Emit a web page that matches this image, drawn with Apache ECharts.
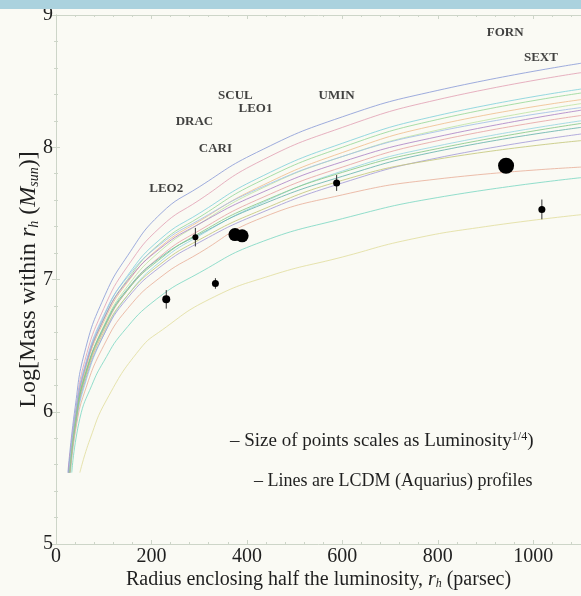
<!DOCTYPE html>
<html><head><meta charset="utf-8">
<script src="https://cdn.jsdelivr.net/npm/echarts@6/dist/echarts.min.js"></script>
<style>html,body{margin:0;padding:0;background:#fafaf4;}#c{width:581px;height:596px;}</style>
</head><body><div id="c"></div>
<script>
// ---- data ----
const xTicks = [0, 200, 400, 600, 800, 1000];
const yTicks = [5, 6, 7, 8, 9];

// galaxy points (r_h in pc, log mass)
const ptX = [231, 292, 334, 375, 390, 588, 943, 1018];
const ptY = [6.85, 7.32, 6.97, 7.34, 7.33, 7.73, 7.86, 7.53];
const ptErr = [0.07, 0.07, 0.04, 0.03, 0.03, 0.06, 0.03, 0.075];
const ptSize = [8, 6, 7, 13, 13, 7, 16, 7];

// galaxy name labels
const labNames = ['LEO2', 'CARI', 'DRAC', 'SCUL', 'LEO1', 'UMIN', 'FORN', 'SEXT'];
const labX = [231, 334, 290, 376, 418, 588, 941, 1016];
const labY = [7.69, 7.99, 8.19, 8.39, 8.29, 8.39, 8.87, 8.68];

// LCDM (Aquarius) profiles
const prof01 = [[25,5.54],[40,6.03],[60,6.45],[100,6.86],[150,7.18],[220,7.5],[300,7.7],[420,7.96],[600,8.23],[800,8.43],[1100,8.635]];
const prof02 = [[26,5.54],[40,5.98],[60,6.38],[100,6.78],[150,7.1],[220,7.4],[300,7.6],[420,7.88],[600,8.15],[800,8.36],[1100,8.564]];
const prof03 = [[27,5.54],[40,5.95],[60,6.33],[100,6.72],[150,7.03],[220,7.31],[300,7.5],[420,7.76],[600,8.03],[800,8.24],[1100,8.44]];
const prof04 = [[28,5.54],[40,5.92],[60,6.3],[100,6.7],[150,7.0],[220,7.28],[300,7.47],[420,7.73],[600,8.0],[800,8.21],[1100,8.41]];
const prof05 = [[27,5.54],[40,5.94],[60,6.3],[100,6.68],[150,6.98],[220,7.25],[300,7.44],[420,7.69],[600,7.96],[800,8.17],[1100,8.36]];
const prof06 = [[29,5.54],[42,5.95],[60,6.26],[100,6.65],[150,6.95],[220,7.22],[300,7.42],[420,7.67],[600,7.93],[800,8.13],[1100,8.33]];
const prof07 = [[26,5.54],[40,5.96],[60,6.32],[100,6.7],[150,6.99],[220,7.24],[300,7.42],[420,7.64],[600,7.89],[800,8.08],[1100,8.28]];
const prof08 = [[28,5.54],[40,5.9],[60,6.25],[100,6.62],[150,6.92],[220,7.18],[300,7.37],[420,7.6],[600,7.85],[800,8.05],[1100,8.24]];
const prof09 = [[30,5.54],[42,5.9],[60,6.2],[100,6.58],[150,6.88],[220,7.14],[300,7.33],[420,7.56],[600,7.82],[800,8.01],[1100,8.2]];
const prof10 = [[27,5.54],[40,5.92],[60,6.27],[100,6.64],[150,6.93],[220,7.17],[300,7.34],[420,7.55],[600,7.78],[800,7.97],[1100,8.15]];
const prof11 = [[29,5.54],[40,5.88],[60,6.22],[100,6.58],[150,6.86],[220,7.1],[300,7.28],[420,7.49],[600,7.73],[800,7.92],[1100,8.1]];
const prof12 = [[28,5.54],[40,5.9],[60,6.24],[100,6.6],[150,6.88],[220,7.12],[300,7.3],[420,7.51],[600,7.75],[800,7.91],[1100,8.05]];
const prof13 = [[30,5.54],[42,5.88],[60,6.15],[100,6.5],[150,6.78],[220,7.02],[300,7.2],[420,7.45],[600,7.64],[800,7.76],[1100,7.85]];
const prof14 = [[33,5.54],[50,5.95],[75,6.2],[100,6.38],[140,6.6],[210,6.85],[300,7.05],[420,7.27],[600,7.46],[800,7.62],[1100,7.77]];
const prof15 = [[50,5.54],[71,5.79],[106,6.09],[175,6.47],[223,6.62],[321,6.85],[450,7.03],[600,7.17],[738,7.3],[900,7.4],[1100,7.49]];
const prof16 = [[27,5.54],[40,5.97],[60,6.34],[100,6.73],[150,7.02],[220,7.27],[300,7.45],[420,7.68],[600,7.93],[800,8.12],[1100,8.3]];
const prof17 = [[29,5.54],[41,5.91],[60,6.26],[100,6.63],[150,6.92],[220,7.16],[300,7.35],[420,7.57],[600,7.81],[800,7.99],[1100,8.18]];

const profiles = [prof01, prof02, prof03, prof04, prof05, prof06, prof07, prof08, prof09, prof10, prof11, prof12, prof13, prof14, prof15, prof16, prof17];
const profColors = ['#8d9ed8', '#e3a3b6', '#84d2dc', '#9ad89a', '#f0bf90', '#bfe4a6', '#ae86c8', '#e6a6a6', '#98d6e2', '#6ab4ae', '#a69ed8', '#c6c87e', '#e9b29c', '#7fd8c4', '#e2dea0', '#a2bfe6', '#88c98a'];

// ---- chart ----
const chart = echarts.init(document.getElementById('c'), null, {renderer: 'canvas'});
const serif = 'Liberation Serif';
const axisCol = '#cdd5c8';
const txt = '#1f1f1f';

const series = [];
profiles.forEach((p, i) => {
  series.push({
    type: 'line', data: p, showSymbol: false, smooth: 0.5,
    lineStyle: {color: profColors[i], width: 1, opacity: 0.85}, silent: true, z: 2
  });
});
series.push({
  type: 'custom', z: 3,
  data: ptX.map((x, i) => [x, ptY[i], ptErr[i]]),
  renderItem: function (params, api) {
    const x = api.value(0), y = api.value(1), e = api.value(2);
    const p1 = api.coord([x, y - e]), p2 = api.coord([x, y + e]);
    return {type: 'line', shape: {x1: p1[0], y1: p1[1], x2: p2[0], y2: p2[1]},
      style: {stroke: '#333', lineWidth: 1}};
  }
});
series.push({
  type: 'scatter', z: 4,
  data: ptX.map((x, i) => [x, ptY[i], ptSize[i]]),
  symbolSize: v => v[2],
  itemStyle: {color: '#000', opacity: 1}
});
series.push({
  type: 'scatter', z: 5, symbolSize: 0,
  data: labNames.map((n, i) => ({name: n, value: [labX[i], labY[i]]})),
  label: {show: true, position: 'inside', formatter: '{b}', fontFamily: serif, fontWeight: 'bold', fontSize: 13, color: '#111'}
});

const commonAxis = {
  axisLine: {show: true, lineStyle: {color: axisCol, width: 1}},
  axisTick: {show: true, inside: true, length: 4, lineStyle: {color: axisCol}},
  minorTick: {show: true, splitNumber: 5, length: 2, lineStyle: {color: axisCol}},
  splitLine: {show: false}
};
const richTitle = (fs) => ({
  t: {fontFamily: serif, fontSize: fs, color: txt},
  i: {fontFamily: serif, fontSize: fs, fontStyle: 'italic', color: txt},
  s: {fontFamily: serif, fontSize: Math.round(fs * 0.6), fontStyle: 'italic', color: txt, verticalAlign: 'bottom', padding: [Math.round(fs * 0.35), 0, 0, 0]}
});

chart.setOption({
  backgroundColor: '#fafaf4',
  animation: false,
  grid: {left: 56, right: -2, top: 15, bottom: 52},
  xAxis: [
    Object.assign({
      type: 'value', min: 0, max: 1100, interval: 200, position: 'bottom',
      axisLabel: {fontFamily: serif, fontSize: 20, color: txt, margin: 3, showMaxLabel: false,
        formatter: v => xTicks.indexOf(v) >= 0 ? String(v) : ''},
      name: '{t|Radius enclosing half the luminosity, }{i|r}{s|h}{t| (parsec)}',
      nameLocation: 'middle', nameGap: 26, nameMoveOverlap: false,
      nameTextStyle: {rich: richTitle(20)}
    }, commonAxis),
    Object.assign({
      type: 'value', min: 0, max: 1100, interval: 200, position: 'top',
      axisLabel: {show: false}
    }, commonAxis)
  ],
  yAxis: [
    Object.assign({
      type: 'value', min: 5, max: 9, interval: 1, position: 'left',
      axisLabel: {fontFamily: serif, fontSize: 20, color: txt, margin: 3,
        formatter: v => yTicks.indexOf(v) >= 0 ? String(v) : ''},
      name: '{t|Log[Mass within }{i|r}{s|h}{t| (}{i|M}{s|sun}{t|)]}',
      nameLocation: 'middle', nameGap: 15, nameRotate: 90, nameMoveOverlap: false,
      nameTextStyle: {rich: richTitle(24)}
    }, commonAxis),
    Object.assign({
      type: 'value', min: 5, max: 9, interval: 1, position: 'right',
      axisLabel: {show: false}
    }, commonAxis)
  ],
  graphic: [
    {type: 'rect', left: 0, top: 0, shape: {width: 581, height: 9}, style: {fill: '#abd2de'}, z: 10},
    {type: 'text', left: 230, top: 431, z: 10,
      style: {text: '{t|– Size of points scales as Luminosity}{u|1/4}{t|)}',
        rich: {t: {fontFamily: serif, fontSize: 19, fill: txt},
               u: {fontFamily: serif, fontSize: 12, fill: txt, verticalAlign: 'top', padding: [0, 0, 9, 0]}}}},
    {type: 'text', left: 254, top: 472, z: 10,
      style: {text: '– Lines are LCDM (Aquarius) profiles', font: '18px "Liberation Serif"', fill: txt}}
  ],
  series: series
});
</script></body></html>
